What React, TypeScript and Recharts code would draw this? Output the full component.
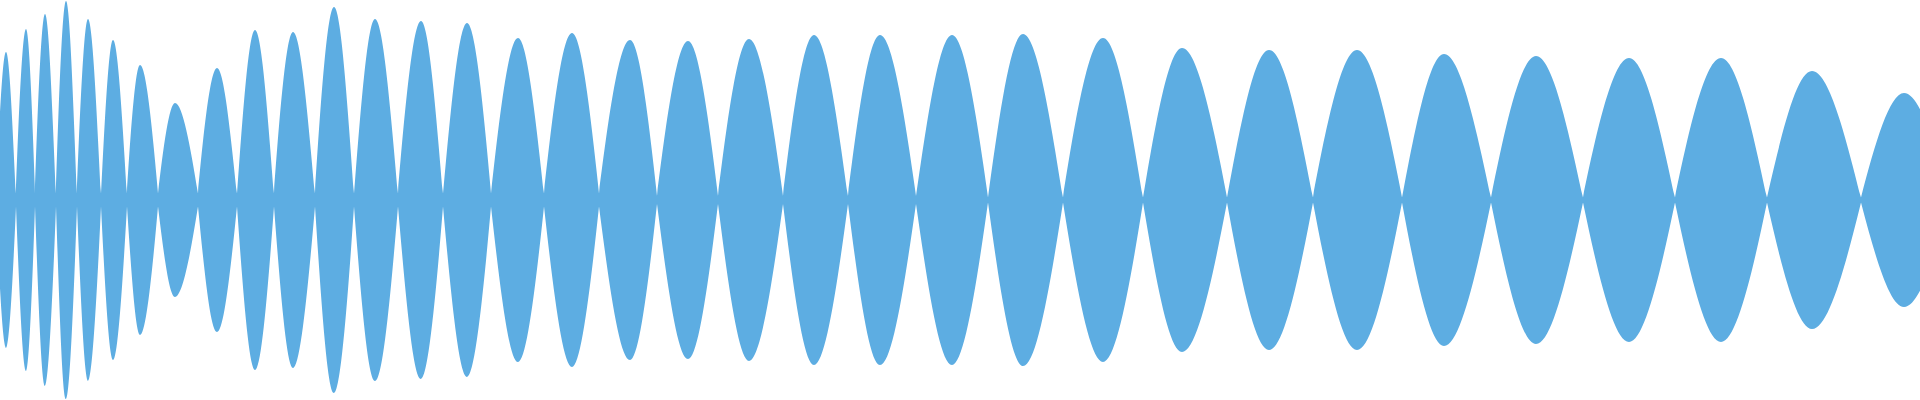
import { Area, AreaChart, XAxis, YAxis } from 'recharts';

// Symmetric waveform envelope. Each lobe goes crossing -> peak -> crossing and
// is mirrored about zero, so the area is drawn as a [-level, level] range.

// zero-crossing positions (first and last sit just outside the visible window)
const crossingTimes = [
  -4, 16, 35, 56, 77, 101, 127, 158, 198, 237, 274, 315, 354, 398, 443, 491,
  544, 599, 657, 718, 783, 848, 916, 988, 1063, 1143, 1227, 1313, 1402, 1491,
  1583, 1675, 1767, 1861, 1950,
];

// residual level left at each crossing
const crossingLevels = [
  6.5, 6.5, 6.5, 6.5, 6.5, 6.5, 6.5, 6.5, 6.5, 6.5, 6.5, 6.5, 6.5, 6.5, 6.5,
  6.5, 6.5, 6.5, 4, 4, 4, 4, 4, 2.5, 2.5, 2.5, 2.5, 2.5, 2.5, 2.5, 2.5, 2.5,
  2.5, 2.5, 2.5,
];

const peakTimes = [
  6, 26, 45, 66, 88, 113, 140, 175, 217, 255, 293, 334, 375, 421, 467, 518, 572,
  630, 688, 749, 814, 880, 952, 1023, 1103, 1182, 1269, 1357, 1444, 1536, 1629,
  1721, 1812, 1904,
];

const peakLevels = [
  148, 171, 186, 199, 181, 160, 135, 97, 132, 170, 168, 193, 181, 179, 177, 162,
  167, 160, 159, 161, 165, 165, 165, 166, 162, 152, 150, 150, 146, 144, 142, 142,
  129, 107,
];

const WIDTH = 1920;
const HEIGHT = 400;
const COLOR = '#5dade2';

type Row = { t: number; band: [number, number] };

const rows: Row[] = [];
peakTimes.forEach((p, i) => {
  rows.push({ t: crossingTimes[i], band: [-crossingLevels[i], crossingLevels[i]] });
  rows.push({ t: p, band: [-peakLevels[i], peakLevels[i]] });
});
const last = crossingTimes.length - 1;
rows.push({ t: crossingTimes[last], band: [-crossingLevels[last], crossingLevels[last]] });

// d3-style curve: flat tangent at the peaks, a sharp corner at the crossings,
// so every lobe comes out as a sine-shaped lens instead of a rounded bump.
function lensCurve(context: any) {
  let area = NaN;
  let side = 0;
  let pts: number[][] = [];
  return {
    areaStart() {
      area = 0;
      side = 0;
    },
    areaEnd() {
      area = NaN;
    },
    lineStart() {
      pts = [];
    },
    point(x: number, y: number) {
      pts.push([+x, +y]);
    },
    lineEnd() {
      const n = pts.length;
      // top edge grows upward (smaller y), bottom edge grows downward
      const out = side === 0 ? -1 : 1;
      const isPeak = pts.map(([, y], i) => {
        const a = out * y;
        const prev = i > 0 ? out * pts[i - 1][1] : -Infinity;
        const next = i < n - 1 ? out * pts[i + 1][1] : -Infinity;
        return a >= prev && a >= next;
      });
      if (n > 0) {
        const [x0, y0] = pts[0];
        if (area === 1) context.lineTo(x0, y0);
        else context.moveTo(x0, y0);
        for (let i = 1; i < n; i++) {
          const [xa, ya] = pts[i - 1];
          const [xb, yb] = pts[i];
          const dx = xb - xa;
          const slope = dx === 0 ? 0 : (yb - ya) / dx;
          const ma = isPeak[i - 1] ? 0 : (Math.PI / 2) * slope;
          const mb = isPeak[i] ? 0 : (Math.PI / 2) * slope;
          context.bezierCurveTo(
            xa + dx / 3,
            ya + (ma * dx) / 3,
            xb - dx / 3,
            yb - (mb * dx) / 3,
            xb,
            yb,
          );
        }
      }
      if (area === 1 || (area !== 0 && n === 1)) context.closePath();
      area = 1 - area;
      side += 1;
    },
  };
}

export default function App() {
  return (
    <>
      <style>{'body { margin: 0; }'}</style>
      <AreaChart
        width={WIDTH}
        height={HEIGHT}
        data={rows}
        margin={{ top: 0, right: 0, bottom: 0, left: 0 }}
      >
        <XAxis
          hide
          type="number"
          dataKey="t"
          domain={[0, 1920]}
          allowDataOverflow
        />
        <YAxis hide type="number" domain={[-200, 200]} allowDataOverflow />
        <Area
          dataKey="band"
          type={lensCurve as any}
          stroke="none"
          fill={COLOR}
          fillOpacity={1}
          isAnimationActive={false}
        />
      </AreaChart>
    </>
  );
}
